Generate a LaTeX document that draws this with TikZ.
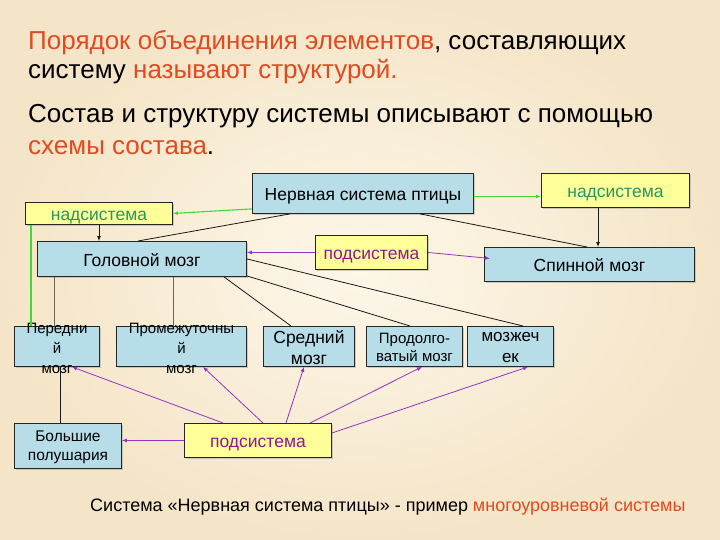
\documentclass[tikz,border=0pt]{standalone}
\usepackage{fontspec}
\setmainfont{Liberation Sans}
\usetikzlibrary{arrows.meta,shadows,calc}
\definecolor{bgin}{RGB}{253,247,233}
\definecolor{bgout}{RGB}{245,229,200}
\definecolor{lblue}{RGB}{183,222,232}
\definecolor{lyellow}{RGB}{255,255,153}
\definecolor{tred}{RGB}{226,74,32}
\definecolor{tgreen}{RGB}{40,150,100}
\definecolor{tpurple}{RGB}{150,20,150}
\definecolor{lpurple}{RGB}{150,50,200}
\definecolor{lgreen}{RGB}{60,220,50}
\definecolor{lgray}{RGB}{110,100,92}
\tikzset{
  boxbase/.style={draw=black!85, line width=0.9pt, inner sep=0pt, anchor=north west,
    text height=15.5pt, text depth=0.5pt,
    drop shadow={shadow xshift=1.3pt, shadow yshift=-1.3pt, opacity=.35}},
  bluebox/.style={boxbase, fill=lblue},
  yelbox/.style={boxbase, fill=lyellow},
  bigtxt/.style={font=\fontsize{17.5}{21}\selectfont},
  boxtxt/.style={align=center, inner sep=0pt},
  tip/.style={-{Latex[length=5pt,width=4pt]}},
  purparr/.style={tip, draw=lpurple, line width=0.8pt},
  greenarr/.style={tip, draw=lgreen, line width=1.1pt},
  blackln/.style={draw=black!90, line width=0.8pt},
  grayln/.style={draw=lgray, line width=1pt},
  titletxt/.style={anchor=base west, inner sep=0pt, font=\fontsize{26}{30}\selectfont},
}
\begin{document}
\begin{tikzpicture}[x=1pt,y=-1pt]
\shade[inner color=bgin, outer color=bgout] (0,0) rectangle (720,540);
\useasboundingbox (0,0) rectangle (720,540);

% title texts
\node[titletxt] (t1) at (28,50)
  {\textcolor{tred}{Порядок объединения элементов}, составляющих};
\node[titletxt] (t2) at (28,79)
  {систему \textcolor{tred}{называют структурой.}};
\node[titletxt] (t3) at (28,123)
  {Состав и структуру системы описывают с помощью};
\node[titletxt] (t4) at (28,155)
  {\textcolor{tred}{схемы состава}.};

% boxes
\node[bluebox, minimum width=221pt, minimum height=40pt, bigtxt] (nss) at (252,173) {Нервная система птицы};
\node[yelbox, minimum width=147pt, minimum height=22pt, bigtxt, text=tgreen] (nadL) at (25,202) {надсистема};
\node[yelbox, minimum width=148pt, minimum height=34pt, bigtxt, text=tgreen] (nadR) at (541,173) {надсистема};
\node[bluebox, minimum width=209pt, minimum height=35pt, bigtxt] (gm) at (37,241) {Головной мозг};
\node[yelbox, minimum width=112pt, minimum height=34pt, bigtxt, text=tpurple] (podM) at (315,235) {подсистема};
\node[bluebox, minimum width=210pt, minimum height=34pt, bigtxt] (sm) at (484,247) {Спинной мозг};

\node[bluebox, minimum width=85pt, minimum height=40pt] (pm) at (14,326) {};
\node[bluebox, minimum width=130pt, minimum height=40pt] (prm) at (116,326) {};
\node[bluebox, minimum width=91pt, minimum height=40pt] (srm) at (263,326) {};
\node[bluebox, minimum width=96pt, minimum height=40pt] (pdm) at (366,326) {};
\node[bluebox, minimum width=86pt, minimum height=40pt] (mzh) at (467,326) {};
\node[bluebox, minimum width=107pt, minimum height=45pt] (bp) at (14,423) {};
\node[yelbox, minimum width=147pt, minimum height=34pt, bigtxt, text=tpurple] (podB) at (184,423) {подсистема};

% texts of small boxes
\node[boxtxt, font=\fontsize{15}{20}\selectfont] (pmT) at ($(pm.center)+(0,2)$) {Передни\\й\\мозг};
\node[boxtxt, font=\fontsize{15}{20}\selectfont] (prmT) at ($(prm.center)+(0,2)$) {Промежуточны\\й\\мозг};
\node[boxtxt, font=\fontsize{17.5}{21}\selectfont] (srmT) at ($(srm.center)+(0,1)$) {Средний\\мозг};
\node[boxtxt, font=\fontsize{15}{18}\selectfont] (pdmT) at ($(pdm.center)+(0,1)$) {Продолго-\\ватый мозг};
\node[boxtxt, font=\fontsize{17}{21}\selectfont] (mzhT) at ($(mzh.center)+(0,1)$) {мозжеч\\ек};
\node[boxtxt, font=\fontsize{15.5}{19}\selectfont] (bpT) at ($(bp.center)+(0,1)$) {Большие\\полушария};

% caption
\node[anchor=base west, inner sep=0pt, font=\fontsize{18}{21}\selectfont] (cap) at (90,511)
  {Система «Нервная система птицы» - пример \textcolor{tred}{многоуровневой системы}};

% connectors
\draw[greenarr] ($(nss.south west)+(0,-5)$) -- (nadL.east);
\draw[greenarr] ($(nss.east)+(0,3)$) -- ($(nadR.west)+(0,6)$);
\draw[blackln, tip] (nadL.south) -- (nadL.south |- gm.north);
\draw[draw=lgreen, line width=1.3pt] ($(nadL.south west)+(6,0)$) coordinate (gA) -- (gA |- pm.north);
\draw[blackln] ($(nss.south west)+(38,0)$) -- ($(gm.north west)+(101,0)$);
\draw[blackln] ($(nss.south west)+(168,0)$) -- ($(sm.north west)+(103,0)$);
\draw[blackln, tip] ($(nadR.south west)+(57,0)$) coordinate (nA) -- (nA |- sm.north);
\draw[purparr] (podM.west) -- (podM.west -| gm.east);
\draw[purparr] (podM.east) -- ($(sm.west)+(6,-6)$);

\draw[grayln] ($(gm.south west)+(17,0)$) coordinate (gB) -- (gB |- pm.north);
\draw[grayln] ($(gm.south west)+(136,0)$) coordinate (gC) -- (gC |- prm.north);
\draw[blackln] ($(gm.south west)+(187,0)$) -- ($(srm.north west)+(28,0)$);
\draw[blackln] ($(gm.south east)+(0,-1)$) -- ($(pdm.north west)+(44,0)$);
\draw[blackln] (gm.east) -- ($(mzh.north west)+(56,0)$);
\draw[blackln] ($(pm.south west)+(46,0)$) coordinate (pA) -- (pA |- bp.north);

\draw[purparr] (podB.west) -- (podB.west -| bp.east);
\draw[purparr] ($(podB.north west)+(39,0)$) -- ($(pm.south west)+(58,0)$);
\draw[purparr] ($(podB.north west)+(79,0)$) -- ($(prm.south west)+(87,0)$);
\draw[purparr] ($(podB.north west)+(102,0)$) -- ($(srm.south west)+(41,0)$);
\draw[purparr] ($(podB.north west)+(126,0)$) -- ($(pdm.south west)+(56,0)$);
\draw[purparr] ($(podB.north east)+(0,10)$) -- ($(mzh.south west)+(61,0)$);
\end{tikzpicture}
\end{document}
